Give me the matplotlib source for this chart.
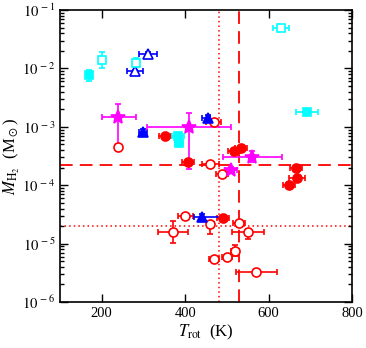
import numpy as np
import matplotlib
matplotlib.use("Agg")
import matplotlib.pyplot as plt
from matplotlib.ticker import FixedLocator, LogLocator, NullFormatter, FuncFormatter

plt.rcParams["font.family"] = ["Liberation Serif", "DejaVu Serif"]
plt.rcParams["mathtext.fontset"] = "stix"

# red open circles
ro_T = [239, 469, 460, 488, 400, 371, 460, 529, 551, 519, 500, 469, 570]
ro_M = [4.6e-4, 1.2e-3, 2.3e-4, 1.58e-4, 3.0e-5, 1.6e-5, 2.2e-5, 2.3e-5, 1.6e-5, 7.6e-6, 5.8e-6, 5.5e-6, 3.3e-6]
ro_Tlo = [0, 18, 20, 15, 18, 35, 8, 15, 38, 10, 12, 12, 48]
ro_Thi = [0, 18, 20, 15, 18, 35, 8, 15, 38, 10, 12, 12, 50]
ro_dlo = [0.05, 0.03, 0.03, 0.03, 0.03, 0.19, 0.17, 0.03, 0.12, 0.1, 0.03, 0.03, 0.04]
ro_dhi = [0.05, 0.03, 0.03, 0.03, 0.03, 0.19, 0.03, 0.03, 0.05, 0.1, 0.03, 0.03, 0.04]

# red filled circles
rf_T = [352, 407, 517, 534, 666, 668, 649, 491]
rf_M = [7.1e-4, 2.5e-4, 3.8e-4, 4.3e-4, 2.0e-4, 1.35e-4, 1.02e-4, 2.7e-5]
rf_Terr = [15, 15, 15, 15, 15, 20, 15, 15]

# blue filled triangles
bf_T = [299, 455, 440]
bf_M = [8.3e-4, 1.4e-3, 2.9e-5]
bf_Tlo = [10, 15, 20]
bf_Thi = [10, 5, 48]

# blue open triangles
bo_T = [311, 280]
bo_M = [1.8e-2, 8.9e-3]
bo_Terr = [21, 20]

# cyan open squares
co_T = [200, 282, 630]
co_M = [1.4e-2, 1.25e-2, 4.9e-2]
co_Terr = [3, 3, 19]
co_derr = [0.13, 0.08, 0.02]

# cyan filled squares
cf_T = [170, 383, 385, 692]
cf_M = [7.6e-3, 7.1e-4, 5.4e-4, 1.78e-3]
cf_Terr = [3, 15, 10, 26]
cf_derr = [0.1, 0.04, 0.04, 0.03]

# magenta stars
ms_T = [239, 409, 560, 510]
ms_M = [1.45e-3, 9.8e-4, 3.1e-4, 1.85e-4]
ms_Tlo = [39, 100, 69, 15]
ms_Thi = [43, 101, 72, 15]
ms_dlo = [0.5, 0.71, 0.1, 0.05]
ms_dhi = [0.23, 0.24, 0.1, 0.05]

# reference lines
T_dash, T_dot = 530, 480
M_dash, M_dot = 2.23e-4, 2.0e-5


def yerr_from_dex(M, lo, hi):
    M = np.array(M)
    return [M - M * 10 ** (-np.array(lo)), M * 10 ** np.array(hi) - M]


fig = plt.figure(figsize=(3.66, 3.48), dpi=100)
ax = fig.add_axes([0.164, 0.132, 0.798, 0.839])

ax.axvline(T_dash, color="red", ls=(0, (7, 4)), lw=1.3, zorder=1)
ax.axvline(T_dot, color="red", ls=(0, (1, 2)), lw=1.1, zorder=1)
ax.axhline(M_dash, color="red", ls=(0, (7, 4)), lw=1.3, zorder=1)
ax.axhline(M_dot, color="red", ls=(0, (1, 2)), lw=1.1, zorder=1)

kw = dict(ls="none", capsize=2.5, elinewidth=1.2, capthick=1.2, mew=1.2)

ax.errorbar(ro_T, ro_M, xerr=[ro_Tlo, ro_Thi], yerr=yerr_from_dex(ro_M, ro_dlo, ro_dhi),
            fmt="o", ms=6.5, color="red", mfc="white", **kw)
ax.errorbar(rf_T, rf_M, xerr=rf_Terr, yerr=yerr_from_dex(rf_M, [0.03] * 8, [0.03] * 8),
            fmt="o", ms=6.5, color="red", **kw)
ax.errorbar(bf_T, bf_M, xerr=[bf_Tlo, bf_Thi], yerr=yerr_from_dex(bf_M, [0.05] * 3, [0.05] * 3),
            fmt="^", ms=6.5, color="blue", **kw)
ax.errorbar(bo_T, bo_M, xerr=bo_Terr, yerr=yerr_from_dex(bo_M, [0.05] * 2, [0.02] * 2),
            fmt="^", ms=6.5, color="blue", mfc="white", **kw)
ax.errorbar(co_T, co_M, xerr=co_Terr, yerr=yerr_from_dex(co_M, co_derr, co_derr),
            fmt="s", ms=6, color="cyan", mfc="white", **kw)
ax.errorbar(cf_T, cf_M, xerr=cf_Terr, yerr=yerr_from_dex(cf_M, cf_derr, cf_derr),
            fmt="s", ms=6, color="cyan", **kw)
ax.errorbar(ms_T, ms_M, xerr=[ms_Tlo, ms_Thi], yerr=yerr_from_dex(ms_M, ms_dlo, ms_dhi),
            fmt="*", ms=10, color="magenta", **kw)

ax.set_xlim(100, 800)
ax.set_yscale("log")
ax.set_ylim(1e-6, 1e-1)

ax.xaxis.set_major_locator(FixedLocator([200, 400, 600, 800]))
ax.yaxis.set_major_locator(LogLocator(base=10, numticks=10))
ax.yaxis.set_minor_locator(LogLocator(base=10, subs=np.arange(2, 10), numticks=10))
ax.yaxis.set_minor_formatter(NullFormatter())
ax.yaxis.set_major_formatter(FuncFormatter(lambda v, p: r"$10^{\,%d}$" % round(np.log10(v))))

ax.tick_params(which="both", direction="in", top=True, right=True, labelsize=10.5, width=1.0)
ax.tick_params(which="major", length=6)
ax.tick_params(which="minor", length=3)
for s in ax.spines.values():
    s.set_linewidth(1.2)

ax.set_xlabel(r"$T_{\rm rot}$  (K)", fontsize=12, labelpad=2)
ax.set_ylabel(r"$M_{\rm H_2}$  (M$_\odot$)", fontsize=12, labelpad=0)

fig.savefig("out.png", dpi=100)
